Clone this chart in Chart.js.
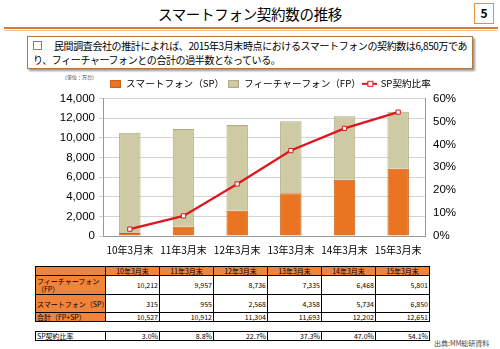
<!DOCTYPE html>
<html><head><meta charset="utf-8">
<script src="https://cdn.jsdelivr.net/npm/chart.js@4.4.1/dist/chart.umd.min.js"></script>
<style>
html,body{margin:0;padding:0;background:#fff;}
body{width:500px;height:349px;position:relative;overflow:hidden;font-family:"Noto Sans CJK JP","Noto Sans",sans-serif;}
#title{position:absolute;left:0;top:3px;width:500px;text-align:center;font-size:14.5px;color:#000;letter-spacing:-0.3px;}
#pg{position:absolute;left:474px;top:3px;width:20px;height:21px;border:1.5px solid #E0923F;box-sizing:border-box;font-size:12px;font-weight:bold;text-align:center;line-height:18px;}
#rule1{position:absolute;left:4px;top:27px;width:494px;height:2px;background:#E07A28;}
#rule2{position:absolute;left:4px;top:30px;width:494px;height:1px;background:#F0C090;}
#box{position:absolute;left:27px;top:36px;width:446px;height:33px;border:1px solid #B07A3A;box-shadow:2px 2px 2px #999;box-sizing:border-box;font-size:10px;line-height:14px;padding:2px 0 0 5px;color:#000;letter-spacing:-0.4px;white-space:nowrap;}
#box .sq{display:inline-block;width:7px;height:7px;border:1.5px solid #E06020;margin-right:12px;vertical-align:0px;}
#unit{position:absolute;left:62px;top:73px;font-size:5px;color:#333;}
#wrap{position:absolute;left:40px;top:76px;width:460px;height:190px;}
table{position:absolute;left:35px;top:266px;border-collapse:collapse;font-size:7px;table-layout:fixed;width:388px;font-family:"Noto Sans CJK JP",sans-serif;}
td{border:1px solid #000;padding:0 1px;text-align:right;width:51px;line-height:8px;overflow:hidden;white-space:nowrap;}
td.lab{text-align:left;width:67px;background:#F0843A;}
tr.hd td{background:#F0843A;text-align:center;height:8px;}
#src{position:absolute;left:434px;top:338px;font-size:7px;color:#444;}
</style></head>
<body>
<div id="title">スマートフォン契約数の推移</div>
<div id="pg">5</div>
<div id="rule1"></div><div id="rule2"></div>
<div id="box"><span class="sq"></span>民間調査会社の推計によれば、2015年3月末時点におけるスマートフォンの契約数は6,850万であ<br>り、フィーチャーフォンとの合計の過半数となっている。</div>
<div id="unit">（単位：万台）</div>
<div id="wrap"><canvas id="c"></canvas></div>
<table id="tbl"></table>
<div id="src">出典:MM総研資料</div>
<script>
const categories = ["10年3月末","11年3月末","12年3月末","13年3月末","14年3月末","15年3月末"];
const fpValues = [10212, 9957, 8736, 7335, 6468, 5801];
const spValues = [315, 955, 2568, 4358, 5734, 6850];
const totalValues = [10527, 10912, 11304, 11693, 12202, 12651];
const ratioValues = [3.0, 8.8, 22.7, 37.3, 47.0, 54.1];
const seriesNames = ["スマートフォン（SP）", "フィーチャーフォン（FP）", "SP契約比率"];

// table
const tbl = document.getElementById('tbl');
const fmt = v => v.toLocaleString('en-US');
let html = '<tr class="hd"><td class="lab"></td>' + categories.map(c=>'<td>'+c+'</td>').join('') + '</tr>';
html += '<tr style="height:19px"><td class="lab" style="white-space:normal">フィーチャーフォン<br>（FP）</td>' + fpValues.map(v=>'<td>'+fmt(v)+'</td>').join('') + '</tr>';
html += '<tr style="height:18px"><td class="lab">スマートフォン（SP）</td>' + spValues.map(v=>'<td>'+fmt(v)+'</td>').join('') + '</tr>';
html += '<tr style="height:9px"><td class="lab">合計（FP+SP）</td>' + totalValues.map(v=>'<td>'+fmt(v)+'</td>').join('') + '</tr>';
html += '<tr style="height:10px"><td colspan="7" style="border:none;border-left:none;border-right:none"></td></tr>';
html += '<tr style="height:9px"><td class="lab" style="background:#fff">SP契約比率</td>' + ratioValues.map(v=>'<td>'+v.toFixed(1)+'%</td>').join('') + '</tr>';
tbl.innerHTML = html;

// legend markers
function boxImg(fill, stroke){
  const c=document.createElement('canvas'); c.width=11; c.height=8;
  const x=c.getContext('2d'); x.fillStyle=fill; x.fillRect(0,0,11,8); x.strokeStyle=stroke; x.lineWidth=1; x.strokeRect(0.5,0.5,10,7);
  return c;
}
const mk = document.createElement('canvas'); mk.width=15; mk.height=8;
const mx = mk.getContext('2d');
mx.strokeStyle='#E0141E'; mx.lineWidth=2; mx.beginPath(); mx.moveTo(0,4); mx.lineTo(15,4); mx.stroke();
mx.fillStyle='#fff'; mx.fillRect(5.5,1.5,5,5); mx.lineWidth=1; mx.strokeRect(5.5,1.5,5,5);
const markers = [mk, boxImg('#EA7421','#C8601A'), boxImg('#CECAA4','#AFAA84')];

const FONT = "'Noto Sans CJK JP','Noto Sans',sans-serif";
new Chart(document.getElementById('c'), {
  data: {
    labels: categories,
    datasets: [
      {type:'line', label: seriesNames[2], data: ratioValues, yAxisID:'y1', borderColor:'#E0141E', borderWidth:2.2,
       pointStyle:'rect', pointRadius:3, pointBackgroundColor:'#fff', pointBorderColor:'#E0141E', pointBorderWidth:1, order:0, tension:0},
      {type:'bar', label: seriesNames[0], data: spValues, yAxisID:'y', backgroundColor:'#EA7421', borderColor:'#C8601A', borderWidth:1, stack:'s', order:1,
       barPercentage:0.4, categoryPercentage:1},
      {type:'bar', label: seriesNames[1], data: fpValues, yAxisID:'y', backgroundColor:'#CECAA4', borderColor:'#AFAA84', borderWidth:1, stack:'s', order:1,
       barPercentage:0.4, categoryPercentage:1}
    ]
  },
  options: {
    responsive:true, maintainAspectRatio:false, animation:false,
    layout:{padding:{left:0,right:0,top:0,bottom:0}},
    plugins:{
      tooltip:{enabled:false},
      legend:{position:'top', labels:{font:{family:FONT,size:9.6}, color:'#000', usePointStyle:true, pointStyleWidth:12, boxHeight:8, padding:3,
        generateLabels:(chart)=>{
          const ds=chart.data.datasets;
          return [1,2,0].map(i=>({text:ds[i].label, datasetIndex:i, fillStyle:'#fff', strokeStyle:'#fff', lineWidth:0,
            pointStyle: markers[i], hidden:false}));
        }}}
    },
    scales:{
      x:{stacked:true, grid:{display:false}, border:{color:'#999'}, afterFit:s=>{s.height=30;},
         ticks:{font:{family:FONT,size:10}, color:'#000', maxRotation:0, padding:0}},
      y:{stacked:true, min:0, max:14000, position:'left', afterFit:s=>{s.width=63;},
         ticks:{stepSize:2000, font:{family:"'Liberation Sans',sans-serif",size:11.5}, color:'#000', padding:4, callback:v=>v.toLocaleString('en-US')},
         grid:{color:'#D4D4D4', drawTicks:true, tickLength:4}, border:{color:'#999'}},
      y1:{min:0, max:60, position:'right', afterFit:s=>{s.width=75;},
         ticks:{stepSize:10, font:{family:"'Liberation Sans',sans-serif",size:11.5}, color:'#000', padding:4, callback:v=>v+'%'},
         grid:{display:false, drawTicks:true, tickLength:4, tickColor:'#999'}, border:{color:'#999'}}
    }
  }
});
</script>
</body></html>
